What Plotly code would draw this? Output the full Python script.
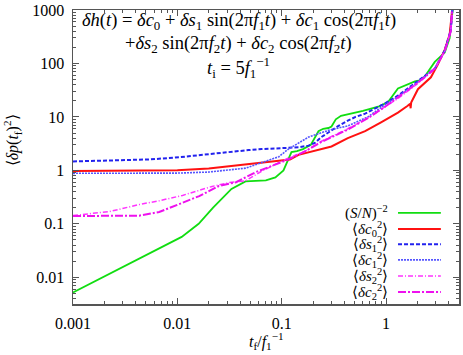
import plotly.graph_objects as go

# values (t_f in units of 1/f1)
x_sn = [0.001, 0.0067, 0.011, 0.016, 0.022, 0.033, 0.045, 0.0705, 0.087, 0.104, 0.116, 0.124, 0.14, 0.16,
        0.19, 0.225, 0.25, 0.28, 0.30, 0.33, 0.37, 0.46, 0.6, 0.84, 1.045, 1.3, 1.6, 1.89, 2.1, 2.35,
        2.93, 3.65, 4.07, 4.35, 4.5]
y_sn = [0.0052, 0.035, 0.057, 0.1, 0.2, 0.45, 0.62, 0.65, 0.74, 1.0, 1.6, 2.2, 2.3, 2.5,
        3.0, 5.4, 6.0, 6.2, 6.6, 9.0, 10.5, 11.5, 13, 15.5, 19, 34, 40, 46, 48, 57,
        107, 160, 300, 1000, 5000]

x_c0 = [0.001, 0.003, 0.01, 0.02, 0.045, 0.08, 0.12, 0.145, 0.2, 0.3, 0.43, 0.63, 0.895, 1.3, 1.6,
        1.70, 1.72, 1.74, 2.02, 2.69, 3.13, 3.65, 4.07, 4.3, 4.5]
y_c0 = [0.97, 0.98, 1.0, 1.08, 1.3, 1.45, 1.6, 1.95, 2.3, 2.8, 4.0, 5.4, 7.9, 12, 16,
        17.5, 14.5, 18.5, 33, 55, 95, 180, 350, 1000, 5000]

x_s1 = [0.001, 0.0054, 0.0104, 0.0235, 0.0313, 0.0484, 0.0645, 0.1, 0.145, 0.181, 0.21, 0.24, 0.30,
        0.35, 0.43, 0.51, 0.63, 0.98, 1.3, 2.02, 2.93, 3.65, 4.17, 4.4, 4.5]
y_s1 = [1.47, 1.6, 1.76, 2.1, 2.2, 2.4, 2.5, 2.6, 2.7, 2.9, 3.3, 4.2, 5.6,
        6.8, 8.5, 10, 11.5, 18, 25, 46, 80, 175, 420, 1500, 5000]

x_c1 = [0.001, 0.005, 0.0104, 0.02, 0.03, 0.0452, 0.0645, 0.094, 0.116, 0.145, 0.181, 0.28, 0.43,
        0.67, 0.98, 1.3, 2.02, 2.93, 3.65, 4.17, 4.4, 4.5]
y_c1 = [0.88, 0.885, 0.89, 0.93, 1.0, 1.1, 1.4, 1.8, 2.5, 3.3, 4.2, 5.6, 6.8,
        10, 17, 24, 45, 80, 170, 400, 1500, 5000]

x_s2 = [0.001, 0.00225, 0.00434, 0.0067, 0.0112, 0.0215, 0.0313, 0.0452, 0.0645, 0.094, 0.116, 0.169,
        0.24, 0.43, 0.7, 1.0, 1.3, 2.0, 2.93, 3.65, 4.17, 4.4, 4.5]
y_s2 = [0.143, 0.17, 0.23, 0.27, 0.34, 0.5, 0.59, 0.64, 0.97, 1.4, 1.7, 2.3,
        3.5, 6.0, 10, 16, 22, 42, 78, 170, 400, 1500, 5000]

x_c2 = [0.001, 0.0043, 0.0067, 0.0104, 0.0162, 0.025, 0.0365, 0.0566, 0.087, 0.116, 0.169, 0.24,
        0.43, 0.7, 1.0, 1.3, 2.0, 2.93, 3.65, 4.17, 4.4, 4.5]
y_c2 = [0.14, 0.142, 0.166, 0.23, 0.33, 0.51, 0.6, 0.93, 1.3, 1.6, 2.3, 3.4,
        5.8, 10, 16, 23, 43, 80, 170, 400, 1500, 5000]

names = ["(<i>S</i>/<i>N</i>)<sup>−2</sup>",
         "⟨<i>δc</i><sub>0</sub><sup>2</sup>⟩",
         "⟨<i>δs</i><sub>1</sub><sup>2</sup>⟩",
         "⟨<i>δc</i><sub>1</sub><sup>2</sup>⟩",
         "⟨<i>δs</i><sub>2</sub><sup>2</sup>⟩",
         "⟨<i>δc</i><sub>2</sub><sup>2</sup>⟩"]
xs = [x_sn, x_c0, x_s1, x_c1, x_s2, x_c2]
ys = [y_sn, y_c0, y_s1, y_c1, y_s2, y_c2]
styles = [dict(color="#11dd11", width=1.8),
          dict(color="#ff1111", width=2),
          dict(color="#2222ee", width=2, dash="4px,2px"),
          dict(color="#5555ff", width=1.6, dash="2px,1px"),
          dict(color="#ff33ff", width=1.5, dash="5px,2px,1px,2px"),
          dict(color="#ee11ee", width=2, dash="8px,2px,2px,2px")]

FONT = "Liberation Serif"
fig = go.Figure()
for x, y, s, n in zip(xs, ys, styles, names):
    fig.add_trace(go.Scatter(x=x, y=y, mode="lines", line=s, name=n, showlegend=False))

# hand-made legend: label on the left, line sample on the right
row_y = [0.31, 0.255, 0.203, 0.15, 0.095, 0.041]
for n, s, ry in zip(names, styles, row_y):
    fig.add_annotation(x=0.822, y=ry, xref="paper", yref="paper", text=n, showarrow=False,
                       xanchor="right", yanchor="middle", font=dict(size=15, family=FONT, color="black"))
    fig.add_shape(type="line", xref="paper", yref="paper", x0=0.842, x1=0.953, y0=ry, y1=ry, line=s)

formula = ["<i>δh</i>(<i>t</i>) = <i>δc</i><sub>0</sub> + <i>δs</i><sub>1</sub> sin(2π<i>f</i><sub>1</sub><i>t</i>)"
           " + <i>δc</i><sub>1</sub> cos(2π<i>f</i><sub>1</sub><i>t</i>)",
           "+<i>δs</i><sub>2</sub> sin(2π<i>f</i><sub>2</sub><i>t</i>) + <i>δc</i><sub>2</sub> cos(2π<i>f</i><sub>2</sub><i>t</i>)",
           "<i>t</i><sub>i</sub> = 5<i>f</i><sub>1</sub><sup>−1</sup>"]
for txt, fy in zip(formula, [0.962, 0.884, 0.805]):
    fig.add_annotation(x=0.43, y=fy, xref="paper", yref="paper", text=txt, showarrow=False,
                       xanchor="center", yanchor="middle", font=dict(size=18.5, family=FONT, color="black"))

fig.add_annotation(x=-0.157, y=0.558, xref="paper", yref="paper", textangle=-90, showarrow=False,
                   xanchor="center", yanchor="middle",
                   text="⟨<i>δp</i>(<i>t</i><sub>f</sub>)<sup>2</sup>⟩", font=dict(size=16, family=FONT, color="black"))
fig.add_annotation(x=0.5, y=-0.125, xref="paper", yref="paper", showarrow=False,
                   xanchor="center", yanchor="middle",
                   text="<i>t</i><sub>f</sub>/<i>f</i><sub>1</sub><sup>−1</sup>", font=dict(size=16, family=FONT, color="black"))

# minor ticks at 2..9 of every decade
minor_vals = [m * 10.0 ** e for e in range(-3, 3) for m in range(2, 10)]
axis = dict(type="log", showgrid=False, zeroline=False, showline=True, linecolor="#555555",
            linewidth=1.5, mirror="allticks", ticks="inside", ticklen=6, tickcolor="#555555",
            minor=dict(ticks="inside", ticklen=3, tickcolor="#555555", showgrid=False,
                       tickmode="array", tickvals=minor_vals),
            tickfont=dict(size=16, family=FONT, color="black"), ticklabeloverflow="allow")
fig.update_xaxes(range=[-3, 0.699], tickvals=[0.001, 0.01, 0.1, 1], ticktext=["0.001", "0.01", "0.1", "1"],
                 ticklabelstandoff=4, **axis)
fig.update_yaxes(range=[-2.5, 3], tickvals=[0.01, 0.1, 1, 10, 100, 1000],
                 ticktext=["0.01", "0.1", "1", "10", "100", "1000"], ticklabelstandoff=4, **axis)
fig.update_layout(width=463, height=355, margin=dict(l=73, r=2, t=10, b=51),
                  paper_bgcolor="white", plot_bgcolor="white")
# drop the page's default 8px body margin (and scrollbars) so the figure sits at the window's corner
fig.write_html("out.html", config={"staticPlot": True, "displayModeBar": False},
               post_script="document.body.style.margin='0';document.body.style.overflow='hidden';"
                           "document.documentElement.style.overflow='hidden';")
